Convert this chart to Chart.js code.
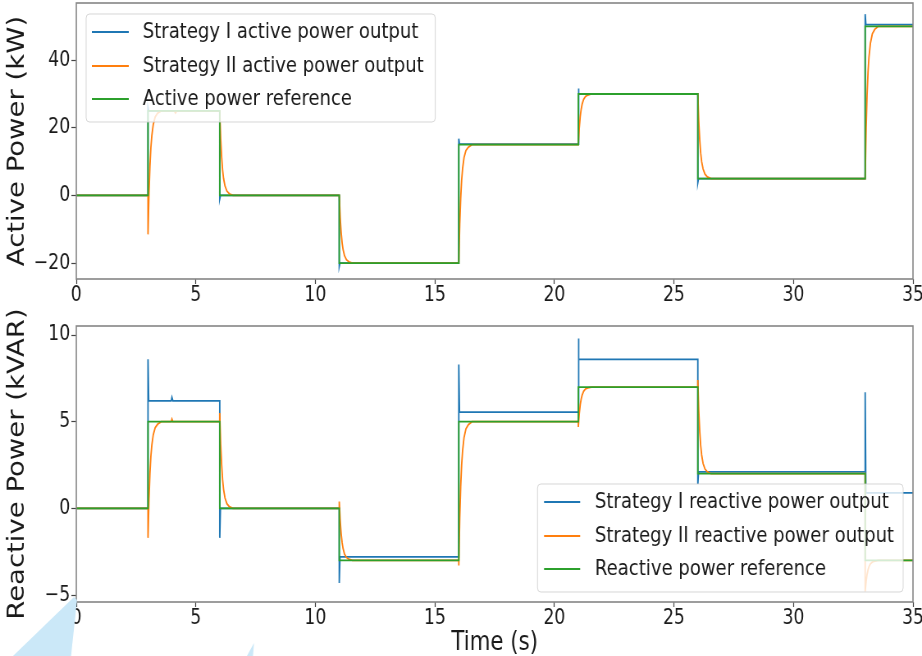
<!DOCTYPE html>
<html>
<head>
<meta charset="utf-8">
<script src="https://cdn.jsdelivr.net/npm/chart.js@4.4.1/dist/chart.umd.min.js"></script>
<style>
  html, body { margin: 0; padding: 0; background: #fff; overflow: hidden; }
  body { width: 922px; height: 656px; position: relative; }
  /* the reference is squeezed sideways, so each chart is drawn wider and scaled down */
  .panel { position: absolute; left: 0; transform-origin: 0 0; transform: scaleX(0.82028); }
  #topChart { top: 0; }
  #bottomChart { top: 310px; }
</style>
</head>
<body>
<canvas id="topChart" class="panel" width="1124" height="310"></canvas>
<canvas id="bottomChart" class="panel" width="1124" height="346"></canvas>
<script>
// Tick labels
const timeTicks = [0, 5, 10, 15, 20, 25, 30, 35];
const activeTicks = [-20, 0, 20, 40];
const reactiveTicks = [-5, 0, 5, 10];

// Active power (kW) - reference
const activeRefT = [0, 3, 3, 6, 6, 11, 11, 16, 16, 21, 21, 26, 26, 33, 33, 35];
const activeRefP = [0, 0, 25, 25, 0, 0, -20, -20, 15, 15, 30, 30, 5, 5, 50, 50];

// Active power - strategy I (tracks the reference, short spikes at each step)
const activeS1T = [0, 3, 3, 3.03, 6, 6, 6.03, 11, 11, 11.03, 16, 16, 16.03, 21, 21, 21.03, 26, 26, 26.03, 33, 33, 33.03, 35];
const activeS1P = [0, 0, 26, 25, 25, -1, 0, 0, -21, -20, -20, 16.8, 15.2, 15.2, 31.6, 30, 30, 3.8, 5, 5, 53.6, 50.5, 50.5];

// Active power - strategy II (slower response)
const activeS2T = [
  0, 3, 3, 3.04, 3.08, 3.12, 3.16, 3.22, 3.3, 3.4, 3.55, 4.1, 4.15, 4.2,
  6, 6.04, 6.08, 6.12, 6.16, 6.22, 6.3, 6.4, 6.55,
  11, 11.04, 11.08, 11.12, 11.16, 11.22, 11.3, 11.4, 11.55,
  16, 16.04, 16.08, 16.12, 16.16, 16.22, 16.3, 16.4, 16.55,
  21, 21.04, 21.08, 21.12, 21.16, 21.22, 21.3, 21.4, 21.55,
  26, 26.04, 26.08, 26.12, 26.16, 26.22, 26.3, 26.4, 26.55,
  33, 33.04, 33.08, 33.12, 33.16, 33.22, 33.3, 33.4, 33.55, 35
];
const activeS2P = [
  0, 0, -11.5, 0.5, 8.6, 14.1, 17.7, 21.0, 23.2, 24.3, 25, 25, 24.4, 25,
  25, 16.8, 11.3, 7.5, 5, 2.8, 1.3, 0.5, 0,
  0, -6.6, -11, -14, -16, -17.8, -19, -19.6, -20,
  -20, -8.5, -0.8, 4.5, 8, 11.2, 13.3, 14.3, 15,
  15, 20, 23.3, 25.5, 27, 28.4, 29.3, 29.7, 30,
  30, 21.8, 16.3, 12.5, 10, 7.8, 6.3, 5.5, 5,
  5, 19.9, 29.8, 36.5, 41, 45, 47.8, 49.1, 50, 50
];

// Reactive power (kVAR) - reference
const reactRefT = [0, 3, 3, 6, 6, 11, 11, 16, 16, 21, 21, 26, 26, 33, 33, 35];
const reactRefQ = [0, 0, 5, 5, 0, 0, -3, -3, 5, 5, 7, 7, 2, 2, -3, -3];

// Reactive power - strategy I
const reactS1T = [0, 3, 3, 3.03, 3.97, 4.0, 4.04, 6, 6, 6.03, 11, 11, 11.03, 16, 16, 16.03, 21, 21, 21.03, 26, 26, 26.03, 33, 33, 33.03, 35];
const reactS1Q = [0, 0, 8.6, 6.2, 6.2, 6.4, 6.2, 6.2, -1.7, 0, 0, -4.3, -2.8, -2.8, 8.3, 5.55, 5.55, 9.8, 8.6, 8.6, 1.4, 2.1, 2.1, 6.7, 0.9, 0.9];

// Reactive power - strategy II
const reactS2T = [
  0, 3, 3, 3.04, 3.08, 3.12, 3.16, 3.22, 3.3, 3.4, 3.55, 3.97, 4.0, 4.04,
  6, 6, 6.04, 6.08, 6.12, 6.16, 6.22, 6.3, 6.4, 6.55,
  11, 11, 11.04, 11.08, 11.12, 11.16, 11.22, 11.3, 11.4, 11.55,
  16, 16, 16.04, 16.08, 16.12, 16.16, 16.22, 16.3, 16.4, 16.55,
  21, 21, 21.04, 21.08, 21.12, 21.16, 21.22, 21.3, 21.4, 21.55,
  26, 26, 26.04, 26.08, 26.12, 26.16, 26.22, 26.3, 26.4, 26.55,
  33, 33, 33.04, 33.08, 33.12, 33.16, 33.22, 33.3, 33.4, 33.55, 35
];
const reactS2Q = [
  0, 0, -1.7, 0.5, 2.0, 3.0, 3.65, 4.25, 4.65, 4.85, 5, 5, 5.15, 5,
  5, 5.5, 3.7, 2.5, 1.65, 1.1, 0.6, 0.27, 0.1, 0,
  0, 0.4, -0.72, -1.47, -1.98, -2.32, -2.63, -2.83, -2.93, -3,
  -3, -3.3, -0.56, 1.27, 2.51, 3.34, 4.09, 4.59, 4.83, 5,
  5, 4.7, 5.46, 5.97, 6.31, 6.54, 6.75, 6.89, 6.95, 7,
  7, 7.4, 5.62, 4.43, 3.62, 3.08, 2.59, 2.27, 2.11, 2,
  2, -4.8, -4.21, -3.81, -3.54, -3.36, -3.2, -3.09, -3.04, -3, -3
];

const BLUE = '#1f77b4', ORANGE = '#ff7f0e', GREEN = '#2ca02c';
const FONT = '"DejaVu Sans", sans-serif';
const TEXT = '#1a1a1a';

const pts = (ts, vs) => ts.map((t, i) => ({ x: t, y: vs[i] }));
const fmt = v => (v < 0 ? '\u2212' + Math.abs(v) : String(v));

function line(label, ts, vs, color, order) {
    return {
        label: label,
        data: pts(ts, vs),
        borderColor: color,
        backgroundColor: color,
        borderWidth: 1.8,
        pointRadius: 0,
        tension: 0,
        fill: false,
        order: order // green drawn on top
    };
}

// grey frame round the plot area, like the matplotlib spines
const framePlugin = {
    id: 'frame',
    afterDraw(chart) {
        const { ctx, chartArea: a } = chart;
        ctx.save();
        ctx.strokeStyle = '#858585';
        ctx.lineWidth = 1.6;
        ctx.strokeRect(a.left, a.top, a.right - a.left, a.bottom - a.top);
        ctx.restore();
    }
};

// matplotlib style legend box inside the axes
const boxLegend = {
    id: 'boxLegend',
    afterDatasetsDraw(chart, args, opts) {
        const { ctx, chartArea, data } = chart;
        ctx.save();
        ctx.font = `${opts.fontSize}px ${FONT}`;
        const textW = Math.max(...data.datasets.map(d => ctx.measureText(d.label).width));
        const w = opts.textX + textW + opts.padRight;
        const h = opts.height;
        const left = opts.corner === 'topLeft' ? chartArea.left + opts.dx : chartArea.right - opts.dx - w;
        const top = opts.corner === 'topLeft' ? chartArea.top + opts.dy : chartArea.bottom - opts.dy - h;
        const r = 4;
        ctx.beginPath();
        ctx.moveTo(left + r, top);
        ctx.lineTo(left + w - r, top);
        ctx.quadraticCurveTo(left + w, top, left + w, top + r);
        ctx.lineTo(left + w, top + h - r);
        ctx.quadraticCurveTo(left + w, top + h, left + w - r, top + h);
        ctx.lineTo(left + r, top + h);
        ctx.quadraticCurveTo(left, top + h, left, top + h - r);
        ctx.lineTo(left, top + r);
        ctx.quadraticCurveTo(left, top, left + r, top);
        ctx.closePath();
        ctx.fillStyle = 'rgba(255,255,255,0.8)';
        ctx.fill();
        ctx.strokeStyle = 'rgba(204,204,204,0.8)';
        ctx.lineWidth = 1;
        ctx.stroke();

        data.datasets.forEach((d, i) => {
            const y = top + opts.rows[i];
            ctx.beginPath();
            ctx.moveTo(left + opts.handle[0], y);
            ctx.lineTo(left + opts.handle[1], y);
            ctx.strokeStyle = d.borderColor;
            ctx.lineWidth = d.borderWidth;
            ctx.stroke();
            ctx.fillStyle = TEXT;
            ctx.textBaseline = 'middle';
            ctx.textAlign = 'left';
            ctx.fillText(d.label, left + opts.textX, y);
        });
        ctx.restore();
    }
};

// light blue page shapes that show below the lower axes
const pageShapes = {
    id: 'pageShapes',
    afterDraw(chart) {
        const { ctx } = chart;
        ctx.save();
        ctx.fillStyle = '#cbe8f8';
        ctx.beginPath();
        ctx.moveTo(15.8, 346);
        ctx.lineTo(90.2, 287);
        ctx.lineTo(93.9, 290);
        ctx.lineTo(86.6, 346);
        ctx.closePath();
        ctx.fill();
        ctx.beginPath();
        ctx.moveTo(301, 346);
        ctx.lineTo(309.6, 333);
        ctx.lineTo(308.4, 346);
        ctx.closePath();
        ctx.fill();
        ctx.restore();
    }
};

function xScale(height, withTitle) {
    return {
        type: 'linear',
        min: 0,
        max: 35,
        afterBuildTicks: s => { s.ticks = timeTicks.map(v => ({ value: v })); },
        afterFit: s => { s.height = height; s.paddingLeft = 0; s.paddingRight = 0; },
        grid: { drawOnChartArea: false, drawTicks: true, tickLength: 5, tickColor: '#444', tickWidth: 1.2 },
        border: { display: false },
        ticks: {
            font: { family: FONT, size: 21, lineHeight: 1 },
            color: TEXT,
            padding: 1,
            maxRotation: 0,
            autoSkip: false,
            callback: v => fmt(v)
        },
        title: {
            display: withTitle,
            text: 'Time (s)',
            font: { family: FONT, size: 26, lineHeight: 1 },
            color: TEXT,
            padding: { top: 0, bottom: 0 }
        }
    };
}

function yScale(min, max, ticks, title) {
    return {
        min: min,
        max: max,
        afterBuildTicks: s => { s.ticks = ticks.map(v => ({ value: v })); },
        afterFit: s => { s.width = 93; s.paddingTop = 0; s.paddingBottom = 0; },
        grid: { drawOnChartArea: false, drawTicks: true, tickLength: 6, tickColor: '#444', tickWidth: 1.2 },
        border: { display: false },
        ticks: {
            font: { family: FONT, size: 21 },
            color: TEXT,
            padding: 1.5,
            callback: v => fmt(v)
        },
        title: {
            display: true,
            text: title,
            font: { family: FONT, size: 27.5, lineHeight: 1 },
            color: TEXT,
            padding: { top: 8, bottom: 0 }
        }
    };
}

Chart.defaults.animation = false;

new Chart(document.getElementById('topChart'), {
    type: 'line',
    data: {
        datasets: [
            line('Strategy I active power output', activeS1T, activeS1P, BLUE, 3),
            line('Strategy II active power output', activeS2T, activeS2P, ORANGE, 2),
            line('Active power reference', activeRefT, activeRefP, GREEN, 1)
        ]
    },
    options: {
        responsive: false,
        devicePixelRatio: 1,
        layout: { padding: { left: 0, right: 11, top: 3, bottom: 0 } },
        scales: {
            x: xScale(31, false),
            y: yScale(-24.7, 56.9, activeTicks, 'Active Power (kW)')
        },
        plugins: {
            legend: { display: false },
            tooltip: { enabled: false },
            boxLegend: {
                corner: 'topLeft', dx: 12, dy: 11, height: 108,
                rows: [18, 52, 85], handle: [7, 52], textX: 69, padRight: 14, fontSize: 22
            }
        }
    },
    plugins: [boxLegend, framePlugin]
});

new Chart(document.getElementById('bottomChart'), {
    type: 'line',
    data: {
        datasets: [
            line('Strategy I reactive power output', reactS1T, reactS1Q, BLUE, 3),
            line('Strategy II reactive power output', reactS2T, reactS2Q, ORANGE, 2),
            line('Reactive power reference', reactRefT, reactRefQ, GREEN, 1)
        ]
    },
    options: {
        responsive: false,
        devicePixelRatio: 1,
        layout: { padding: { left: 0, right: 11, top: 16, bottom: 0 } },
        scales: {
            x: xScale(54, true),
            y: yScale(-5.4, 10.52, reactiveTicks, 'Reactive Power (kVAR)')
        },
        plugins: {
            legend: { display: false },
            tooltip: { enabled: false },
            boxLegend: {
                corner: 'bottomRight', dx: 12, dy: 10, height: 108,
                rows: [18, 52, 85], handle: [8, 52], textX: 70, padRight: 11, fontSize: 22
            }
        }
    },
    plugins: [boxLegend, framePlugin, pageShapes]
});
</script>
</body>
</html>
